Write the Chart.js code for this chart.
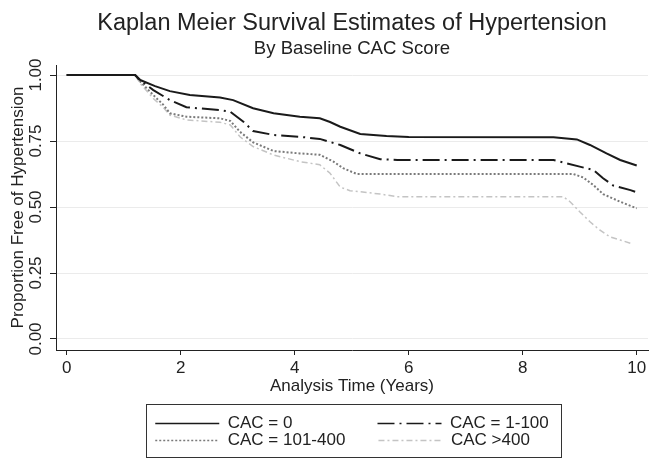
<!DOCTYPE html>
<html>
<head>
<meta charset="utf-8">
<script src="https://cdn.jsdelivr.net/npm/chart.js@4.4.0/dist/chart.umd.min.js"></script>
<style>
  html, body { margin: 0; padding: 0; background: #fff; }
  #wrap { width: 650px; height: 459px; }
</style>
</head>
<body>
<div id="wrap"><canvas id="km" width="650" height="459"></canvas></div>
<script>
const FONT = "'Liberation Sans', Arial, Helvetica, sans-serif"
const INK = '#222'

const xTicks = [0, 2, 4, 6, 8, 10]
const yTicks = [0, 0.25, 0.5, 0.75, 1]

const seriesLabels = ['CAC = 0', 'CAC = 1-100', 'CAC = 101-400', 'CAC >400']

// time in years, proportion free of hypertension
const cac0Time = [0, 1.2, 1.29, 1.55, 1.81, 2.16, 2.69, 2.92, 3.27, 3.63, 4.09, 4.44, 4.62, 4.8, 5.15, 5.61, 6, 8.54, 8.95, 9.18, 9.47, 9.71, 10]
const cac0Surv = [1, 1, 0.981, 0.958, 0.939, 0.924, 0.915, 0.905, 0.874, 0.855, 0.842, 0.836, 0.822, 0.804, 0.777, 0.769, 0.765, 0.764, 0.756, 0.735, 0.703, 0.678, 0.657]

const cac1Time = [0, 1.2, 1.29, 1.52, 1.81, 2.1, 2.69, 2.87, 3.1, 3.27, 3.63, 4.09, 4.44, 4.8, 5.15, 5.5, 5.8, 8.54, 8.71, 9.0, 9.24, 9.41, 9.59, 9.89, 10]
const cac1Surv = [1, 1, 0.98, 0.943, 0.905, 0.878, 0.867, 0.861, 0.823, 0.788, 0.773, 0.766, 0.758, 0.735, 0.703, 0.681, 0.678, 0.678, 0.669, 0.653, 0.64, 0.609, 0.581, 0.564, 0.556]

const cac101Time = [0, 1.2, 1.29, 1.52, 1.7, 1.81, 2.1, 2.69, 2.87, 3.04, 3.27, 3.63, 4.09, 4.44, 4.68, 4.85, 5.09, 8.89, 9.06, 9.24, 9.41, 9.71, 10]
const cac101Surv = [1, 1, 0.975, 0.924, 0.886, 0.855, 0.842, 0.836, 0.826, 0.785, 0.745, 0.712, 0.703, 0.698, 0.672, 0.647, 0.625, 0.625, 0.612, 0.583, 0.549, 0.52, 0.495]

const cac400Time = [0, 1.2, 1.29, 1.52, 1.7, 1.81, 2.1, 2.69, 2.87, 3.04, 3.27, 3.63, 4.09, 4.44, 4.62, 4.8, 4.97, 5.5, 5.8, 8.71, 8.83, 9.0, 9.18, 9.35, 9.53, 9.71, 9.9]
const cac400Surv = [1, 1, 0.968, 0.911, 0.876, 0.848, 0.83, 0.821, 0.811, 0.766, 0.729, 0.697, 0.672, 0.66, 0.628, 0.575, 0.562, 0.549, 0.539, 0.539, 0.52, 0.482, 0.444, 0.413, 0.387, 0.375, 0.362]

const toPoints = (times, surv) => times.map((t, i) => ({ x: t, y: surv[i] }))

// legend has two columns; pad labels with spaces so the rows line up
const measure = document.createElement('canvas').getContext('2d')
measure.font = `17px ${FONT}`
const textWidth = (s) => measure.measureText(s).width
const padTo = (text, width) => {
  let s = text
  while (Math.abs(textWidth(s + ' ') - width) < Math.abs(textWidth(s) - width)) s += ' '
  return s
}
const sampleWidth = 64
const colOneText = 221 - sampleWidth - 8.5
const colTwoText = Math.max(textWidth(seriesLabels[1]), textWidth(seriesLabels[3]))
const legendText = seriesLabels.map((l, i) => padTo(l, i % 2 === 0 ? colOneText : colTwoText))

const legendFrame = {
  id: 'legendFrame',
  afterDraw: (chart) => {
    const boxes = chart.legend && chart.legend.legendHitBoxes
    if (!boxes || !boxes.length) return
    const left = Math.min(...boxes.map((b) => b.left))
    const right = Math.max(...boxes.map((b) => b.left + b.width))
    const top = Math.min(...boxes.map((b) => b.top))
    const bottom = Math.max(...boxes.map((b) => b.top + b.height))
    const ctx = chart.ctx
    ctx.save()
    ctx.strokeStyle = '#333'
    ctx.lineWidth = 1
    ctx.strokeRect(Math.round(left - 9) + 0.5, Math.round(top - 11) + 0.5, Math.round(right - left + 21), Math.round(bottom - top + 19))
    ctx.restore()
  },
}

const chart = new Chart(document.getElementById('km').getContext('2d'), {
  type: 'line',
  data: {
    datasets: [
      { label: seriesLabels[0], data: toPoints(cac0Time, cac0Surv), borderColor: '#1a1a1a', borderWidth: 2, borderDash: [] },
      { label: seriesLabels[1], data: toPoints(cac1Time, cac1Surv), borderColor: '#1a1a1a', borderWidth: 2, borderDash: [17, 5, 2, 5] },
      { label: seriesLabels[2], data: toPoints(cac101Time, cac101Surv), borderColor: '#7a7a7a', borderWidth: 2, borderDash: [2, 2] },
      { label: seriesLabels[3], data: toPoints(cac400Time, cac400Surv), borderColor: '#c4c4c4', borderWidth: 1.5, borderDash: [6, 3, 2, 3] },
    ].map((ds) => ({ ...ds, pointRadius: 0, fill: false, tension: 0 })),
  },
  plugins: [legendFrame],
  options: {
    responsive: false,
    animation: false,
    devicePixelRatio: 1,
    events: [],
    layout: { padding: { left: 0, right: 2, top: 0, bottom: 0 } },
    plugins: {
      tooltip: { enabled: false },
      title: {
        display: true,
        fullSize: false,
        text: 'Kaplan Meier Survival Estimates of Hypertension',
        color: INK,
        font: { family: FONT, size: 23.5, weight: 'normal', lineHeight: 1.2 },
        padding: { top: 9.5, bottom: 0 },
      },
      subtitle: {
        display: true,
        fullSize: false,
        text: 'By Baseline CAC Score',
        color: INK,
        font: { family: FONT, size: 18.6, weight: 'normal', lineHeight: 1.2 },
        padding: { top: 0, bottom: 5 },
      },
      legend: {
        position: 'bottom',
        fullSize: false,
        labels: {
          usePointStyle: true,
          pointStyleWidth: sampleWidth,
          padding: 0,
          color: INK,
          font: { family: FONT, size: 17 },
          generateLabels: (c) => c.data.datasets.map((ds, i) => ({
            text: legendText[i],
            fillStyle: ds.borderColor,
            strokeStyle: ds.borderColor,
            lineWidth: 1.5,
            lineDash: ds.borderDash,
            pointStyle: 'line',
            hidden: false,
            datasetIndex: i,
            fontColor: INK,
          })),
        },
      },
    },
    scales: {
      x: {
        type: 'linear',
        min: -0.1877,
        max: 10.198,
        afterBuildTicks: (s) => { s.ticks = xTicks.map((v) => ({ value: v })) },
        afterFit: (s) => { s.height = 65 },
        ticks: { color: INK, font: { family: FONT, size: 17 }, padding: 3, callback: (v) => String(v) },
        grid: { display: true, drawOnChartArea: false, drawTicks: true, tickLength: 5, tickColor: INK, tickWidth: 1 },
        border: { display: true, color: INK, width: 1 },
        title: {
          display: true,
          text: 'Analysis Time (Years)',
          color: INK,
          font: { family: FONT, size: 17, lineHeight: 1 },
          padding: { top: 0, bottom: 20 },
        },
      },
      y: {
        type: 'linear',
        min: -0.0417,
        max: 1.0379,
        afterBuildTicks: (s) => { s.ticks = yTicks.map((v) => ({ value: v })) },
        afterFit: (s) => { s.width = 56 },
        ticks: {
          color: INK,
          font: { family: FONT, size: 17 },
          padding: -3,
          minRotation: 90,
          maxRotation: 90,
          crossAlign: 'center',
          callback: (v) => v.toFixed(2),
        },
        grid: { color: '#ebebeb', lineWidth: 1, tickLength: 6, tickColor: INK, tickWidth: 1 },
        border: { display: true, color: INK, width: 1 },
        title: {
          display: true,
          text: 'Proportion Free of Hypertension',
          color: INK,
          font: { family: FONT, size: 17, lineHeight: 1 },
          padding: { top: 9.5, bottom: 0 },
        },
      },
    },
  },
})
</script>
</body>
</html>
